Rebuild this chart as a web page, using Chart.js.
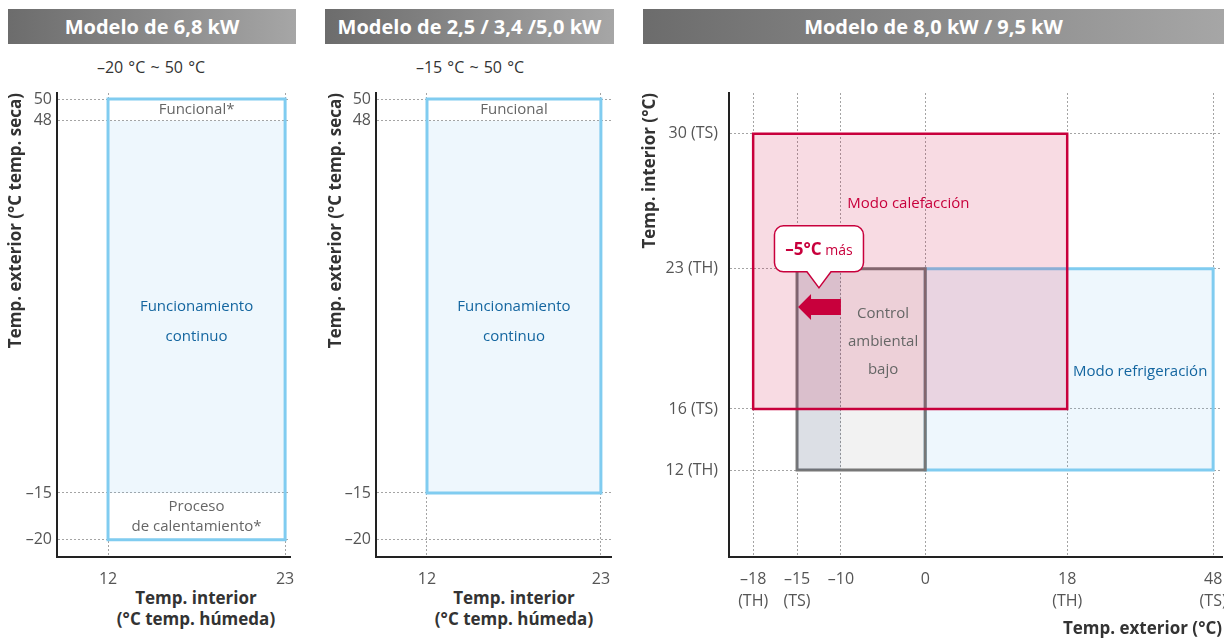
<!DOCTYPE html>
<html lang="es">
<head>
<meta charset="UTF-8">
<title>Rango de funcionamiento</title>
<script src="https://cdn.jsdelivr.net/npm/chart.js"></script>
<style>
  body { margin: 0; width: 1224px; height: 639px; position: relative; overflow: hidden; background: #fff; font-family: "Open Sans", sans-serif; }
  .head { position: absolute; top: 9px; height: 35px; line-height: 35px; color: #fff; font-weight: bold; font-size: 20px; text-align: center;
          background: linear-gradient(to right, #6c6c6c, #a6a6a6); }
  .sub { position: absolute; top: 56px; width: 200px; font-size: 16px; color: #333; text-align: center; word-spacing: 1px; }
  .xt { position: absolute; top: 587px; width: 240px; font-size: 17px; font-weight: bold; color: #333; text-align: center; line-height: 21px; }
  canvas { position: absolute; top: 80px; }
</style>
</head>
<body>
<div class="head" style="left:8px;width:288px">Modelo de 6,8 kW</div>
<div class="head" style="left:325px;width:289px">Modelo de 2,5 / 3,4 /5,0 kW</div>
<div class="head" style="left:643px;width:581px">Modelo de 8,0 kW / 9,5 kW</div>
<div class="sub" style="left:51px">–20 °C ~ 50 °C</div>
<div class="sub" style="left:370px">–15 °C ~ 50 °C</div>
<div class="xt" style="left:76px">Temp. interior<br>(°C temp. húmeda)</div>
<div class="xt" style="left:394px">Temp. interior<br>(°C temp. húmeda)</div>

<canvas id="c1" width="300" height="559" style="left:0px"></canvas>
<canvas id="c2" width="300" height="559" style="left:320px"></canvas>
<canvas id="c3" width="594" height="559" style="left:630px"></canvas>

<script>
// ---- values ----
// small charts: outdoor dry temp (y) vs indoor wet temp (x)
const outTicks = [50, 48, -15, -20];
const wetTicks = [12, 23];
const wetRange = [12, 23];
const full68 = [-20, 50];      // whole range 6,8 kW
const cont68 = [-15, 48];      // continuous operation
const full25 = [-15, 50];      // whole range 2,5 / 3,4 / 5,0 kW
const cont25 = [-15, 48];

// big chart: indoor temp (y) vs outdoor temp (x)
const extTicks = [-18, -15, -10, 0, 18, 48];
const extNotes = ['(TH)', '(TS)', '', '', '(TH)', '(TS)'];
const intTicks = [12, 16, 23, 30];
const intNotes = ['(TH)', '(TS)', '(TH)', '(TS)'];
const heatX = [-18, 18], heatY = [16, 30];
const lowX = [-15, 0], lowY = [12, 23];
const extraX = [-15, -10];     // the "-5 °C más" strip
const coolX = [0, 48], coolY = [12, 23];

const RED = '#c8003c', SKY = '#80ccf0', BLUE = '#1466a0', GREY = '#666';
const FONT = '"Open Sans", sans-serif';
const fmt = v => (v < 0 ? '–' + (-v) : String(v));

// linear pieces between the tick stops, like the printed diagram
class PiecewiseScale extends Chart.LinearScale {
  static id = 'piecewise';
  static defaults = {};
  pairs() {
    const o = this.options;
    return o.stops.map((v, i) => [v, o.at[i]]).sort((p, q) => p[0] - q[0]);
  }
  toDecimal(v) {
    const p = this.pairs();
    let i = 0;
    while (i < p.length - 2 && v > p[i + 1][0]) i++;
    const [v0, d0] = p[i], [v1, d1] = p[i + 1];
    return d0 + (v - v0) * (d1 - d0) / (v1 - v0);
  }
  fromDecimal(d) {
    const p = this.pairs();
    let i = 0;
    while (i < p.length - 2 && d > p[i + 1][1]) i++;
    const [v0, d0] = p[i], [v1, d1] = p[i + 1];
    return v0 + (d - d0) * (v1 - v0) / (d1 - d0);
  }
  determineDataLimits() {
    this.min = this.fromDecimal(0);
    this.max = this.fromDecimal(1);
  }
  buildTicks() {
    return this.pairs().map(p => ({ value: p[0] }));
  }
  getPixelForValue(v) {
    return this.getPixelForDecimal(this.toDecimal(v));
  }
  getValueForPixel(px) {
    return this.fromDecimal(this.getDecimalForPixel(px));
  }
}
Chart.register(PiecewiseScale);

function rect(xr, yr) {
  return [
    { x: xr[0], y: yr[0] }, { x: xr[1], y: yr[0] },
    { x: xr[1], y: yr[1] }, { x: xr[0], y: yr[1] }, { x: xr[0], y: yr[0] }
  ];
}

function box(xr, yr, fillColor, lineColor, width, order) {
  return {
    data: rect(xr, yr),
    showLine: true,
    pointRadius: 0,
    fill: fillColor ? 'shape' : false,
    backgroundColor: fillColor || 'transparent',
    borderColor: lineColor || 'transparent',
    borderWidth: width || 0.01,
    borderJoinStyle: 'miter',
    borderCapStyle: 'square',
    order: order
  };
}

// text placed at data coordinates
const notesPlugin = {
  id: 'notes',
  afterDatasetsDraw(chart, args, opts) {
    const { ctx, scales } = chart;
    (opts.items || []).forEach(it => {
      const x = scales.x.getPixelForValue(it.x);
      const y = scales.y.getPixelForValue(it.y);
      ctx.save();
      ctx.font = (it.size || 15) + 'px ' + FONT;
      ctx.fillStyle = it.color;
      ctx.textAlign = 'center';
      ctx.textBaseline = 'middle';
      const lh = it.lh || 20;
      const y0 = y - lh * (it.lines.length - 1) / 2;
      it.lines.forEach((t, i) => ctx.fillText(t, x, y0 + i * lh));
      ctx.restore();
    });
  }
};

// arrow + bubble for the low ambient extension
const calloutPlugin = {
  id: 'callout',
  afterDatasetsDraw(chart, args, opts) {
    if (!opts.from) return;
    const { ctx, scales } = chart;
    const x1 = scales.x.getPixelForValue(opts.from);
    const x0 = scales.x.getPixelForValue(opts.to) + 1;
    const ay = scales.y.getPixelForValue(opts.arrowY);
    ctx.save();
    ctx.fillStyle = RED;
    ctx.beginPath();
    ctx.moveTo(x0, ay);
    ctx.lineTo(x0 + 13, ay - 13);
    ctx.lineTo(x0 + 13, ay - 8);
    ctx.lineTo(x1, ay - 8);
    ctx.lineTo(x1, ay + 8);
    ctx.lineTo(x0 + 13, ay + 8);
    ctx.lineTo(x0 + 13, ay + 13);
    ctx.closePath();
    ctx.fill();

    const tx = scales.x.getPixelForValue(opts.tipX);
    const ty = scales.y.getPixelForValue(opts.tipY);
    const w = 89, h = 46, r = 9;
    const bl = tx - w / 2, bb = ty - 16, bt = bb - h;
    ctx.beginPath();
    ctx.moveTo(bl + r, bt);
    ctx.arcTo(bl + w, bt, bl + w, bb, r);
    ctx.arcTo(bl + w, bb, bl, bb, r);
    ctx.lineTo(tx + 12, bb);
    ctx.lineTo(tx, ty);
    ctx.lineTo(tx - 12, bb);
    ctx.arcTo(bl, bb, bl, bt, r);
    ctx.arcTo(bl, bt, bl + w, bt, r);
    ctx.closePath();
    ctx.fillStyle = '#fff';
    ctx.fill();
    ctx.lineWidth = 1.5;
    ctx.strokeStyle = RED;
    ctx.stroke();

    ctx.fillStyle = RED;
    ctx.textBaseline = 'middle';
    ctx.font = 'bold 17px ' + FONT;
    const a = opts.strong, b = ' ' + opts.normal;
    const wa = ctx.measureText(a).width;
    ctx.font = '14px ' + FONT;
    const wb = ctx.measureText(b).width;
    const sx = tx - (wa + wb) / 2, sy = bt + h / 2 + 1;
    ctx.font = 'bold 17px ' + FONT;
    ctx.fillText(a, sx, sy);
    ctx.font = '14px ' + FONT;
    ctx.fillText(b, sx + wa, sy + 1);
    ctx.restore();
  }
};

function axis(stops, at, size, labelFn, extra) {
  return Object.assign({
    type: 'piecewise',
    stops: stops,
    at: at,
    grid: { color: '#a4a4a4', lineWidth: 1, drawTicks: false },
    border: { display: true, color: '#222', width: 2, dash: [2, 2] },
    ticks: {
      autoSkip: false, maxRotation: 0, minRotation: 0,
      color: '#555', padding: size > 70 ? 11 : 5,
      font: { family: FONT, size: 16, lineHeight: 1.4 },
      callback: labelFn
    },
    afterFit(s) {
      if (s.isHorizontal()) s.height = size; else s.width = size;
      s.paddingLeft = s.paddingRight = s.paddingTop = s.paddingBottom = 0;
    }
  }, extra || {});
}

function makeChart(id, datasets, scales, padding, plugins) {
  return new Chart(document.getElementById(id), {
    type: 'scatter',
    data: { datasets: datasets },
    options: {
      responsive: false,
      animation: false,
      events: [],
      layout: { padding: padding },
      scales: scales,
      plugins: Object.assign({ legend: { display: false }, tooltip: { enabled: false } }, plugins)
    },
    plugins: [notesPlugin, calloutPlugin]
  });
}

const titleFont = { family: FONT, size: 17, weight: 'bold', lineHeight: 1.2 };
const yTitleSmall = {
  display: true, text: 'Temp. exterior (°C temp. seca)', align: 'end', color: '#333',
  font: titleFont, padding: { top: 6, bottom: 0 }
};
const outAt = [0.987, 0.940, 0.138, 0.037];

// Modelo de 6,8 kW
makeChart('c1', [
  box(wetRange, full68, null, SKY, 3, 1),
  box(wetRange, cont68, 'rgba(120,190,240,0.13)', null, 0, 2)
], {
  x: axis(wetTicks, [0.219, 0.979], 82, v => fmt(v)),
  y: axis(outTicks, outAt, 57, v => fmt(v), { title: yTitleSmall })
}, { top: 13, right: 10, left: 0, bottom: 0 }, {
  notes: { items: [
    { x: 17.5, y: 49, lines: ['Funcional*'], color: GREY },
    { x: 17.5, y: 14, lines: ['Funcionamiento', 'continuo'], color: BLUE, lh: 30 },
    { x: 17.5, y: -17.5, lines: ['Proceso', 'de calentamiento*'], color: GREY, lh: 20 }
  ] }
});

// Modelo de 2,5 / 3,4 / 5,0 kW
makeChart('c2', [
  box(wetRange, full25, null, SKY, 3, 1),
  box(wetRange, cont25, 'rgba(120,190,240,0.13)', null, 0, 2)
], {
  x: axis(wetTicks, [0.217, 0.957], 82, v => fmt(v)),
  y: axis(outTicks, outAt, 56, v => fmt(v), { title: yTitleSmall })
}, { top: 13, right: 9, left: 0, bottom: 0 }, {
  notes: { items: [
    { x: 17.5, y: 49, lines: ['Funcional'], color: GREY },
    { x: 17.5, y: 14, lines: ['Funcionamiento', 'continuo'], color: BLUE, lh: 30 }
  ] }
});

// Modelo de 8,0 kW / 9,5 kW
makeChart('c3', [
  box(heatX, heatY, 'rgba(205,0,60,0.14)', RED, 2.5, 1),
  box(extraX, lowY, 'rgba(60,80,130,0.12)', null, 0, 3),
  box(lowX, lowY, 'rgba(0,0,0,0.05)', '#777', 3, 4),
  box(coolX, coolY, 'rgba(120,190,240,0.13)', SKY, 3, 5)
], {
  x: axis(extTicks, [0.049, 0.138, 0.227, 0.398, 0.686, 0.982], 82, v => {
    const n = extNotes[extTicks.indexOf(v)];
    return n ? [fmt(v), n] : fmt(v);
  }, {
    title: {
      display: true, text: 'Temp. exterior (°C)', align: 'end', color: '#333',
      font: titleFont, padding: { top: 0, bottom: 0 }
    }
  }),
  y: axis(intTicks, [0.1875, 0.319, 0.621, 0.912], 99,
    v => fmt(v) + ' ' + intNotes[intTicks.indexOf(v)], {
    title: {
      display: true, text: 'Temp. interior (°C)', align: 'end', color: '#333',
      font: titleFont, padding: { top: 10, bottom: 0 }
    }
  })
}, { top: 13, right: 2, left: 0, bottom: 0 }, {
  notes: { items: [
    { x: -2, y: 26.4, lines: ['Modo calefacción'], color: RED },
    { x: -5, y: 19.35, lines: ['Control', 'ambiental', 'bajo'], color: GREY, lh: 28 },
    { x: 33, y: 17.85, lines: ['Modo refrigeración'], color: BLUE }
  ] },
  callout: { from: extraX[1], to: extraX[0], arrowY: 21.1, tipX: -12.5, tipY: 22.05, strong: '–5°C', normal: 'más' }
});
</script>
</body>
</html>
